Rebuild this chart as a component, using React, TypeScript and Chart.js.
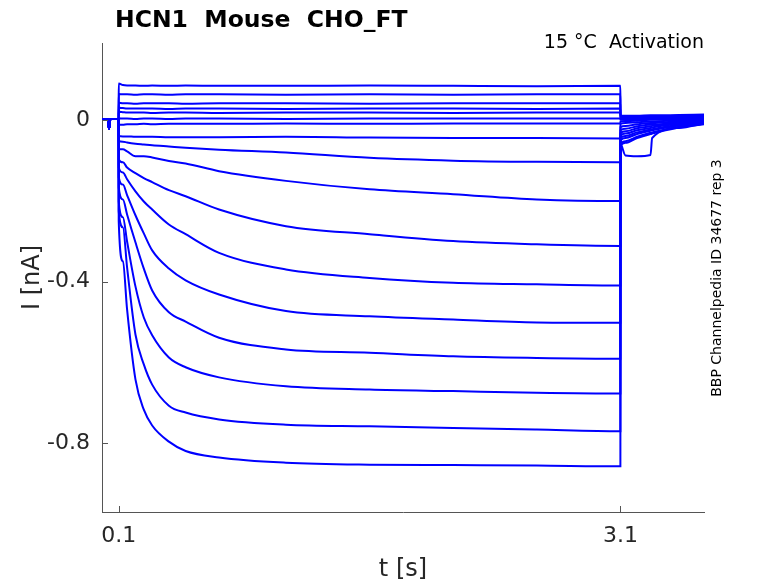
import { useEffect, useRef } from "react"
import { Chart, registerables } from "chart.js"

Chart.register(...registerables)

// holding period before the step (s, nA)
const HOLD_T = [0, 0.035, 0.042, 0.05, 0.0995]
const HOLD_I = [0.002, 0.002, -0.022, 0.002, 0.002]

// activation step, one row per sweep (top to bottom)
const STEP_T = [0.1, 0.125, 0.15, 0.2, 0.25, 0.3, 0.4, 0.5, 0.7, 1.1, 1.6, 2.1, 2.6, 3.1]
const STEP_I = [
  [0.09, 0.086, 0.085, 0.085, 0.084, 0.085, 0.084, 0.085, 0.084, 0.084, 0.085, 0.084, 0.083, 0.084],
  [0.064, 0.063, 0.063, 0.062, 0.063, 0.063, 0.062, 0.063, 0.063, 0.062, 0.063, 0.062, 0.063, 0.063],
  [0.042, 0.041, 0.041, 0.04, 0.041, 0.041, 0.041, 0.04, 0.041, 0.041, 0.04, 0.041, 0.041, 0.041],
  [0.03, 0.029, 0.028, 0.028, 0.028, 0.028, 0.027, 0.028, 0.028, 0.027, 0.028, 0.028, 0.027, 0.028],
  [0.02, 0.019, 0.018, 0.018, 0.018, 0.017, 0.018, 0.018, 0.017, 0.018, 0.018, 0.017, 0.018, 0.018],
  [0.004, 0.003, 0.003, 0.002, 0.003, 0.003, 0.002, 0.003, 0.003, 0.002, 0.003, 0.003, 0.003, 0.003],
  [-0.012, -0.012, -0.011, -0.011, -0.01, -0.011, -0.01, -0.01, -0.01, -0.009, -0.01, -0.009, -0.009, -0.009],
  [-0.04, -0.041, -0.041, -0.042, -0.042, -0.042, -0.043, -0.043, -0.043, -0.042, -0.044, -0.045, -0.045, -0.046],
  [-0.052, -0.054, -0.056, -0.059, -0.061, -0.063, -0.066, -0.069, -0.074, -0.081, -0.094, -0.101, -0.104, -0.105],
  [-0.073, -0.073, -0.078, -0.09, -0.09, -0.093, -0.102, -0.108, -0.127, -0.151, -0.172, -0.184, -0.197, -0.201],
  [-0.098, -0.105, -0.118, -0.132, -0.144, -0.154, -0.174, -0.189, -0.222, -0.263, -0.283, -0.3, -0.308, -0.312],
  [-0.118, -0.13, -0.147, -0.177, -0.202, -0.222, -0.259, -0.283, -0.329, -0.37, -0.391, -0.403, -0.407, -0.41],
  [-0.142, -0.16, -0.186, -0.236, -0.281, -0.323, -0.368, -0.397, -0.432, -0.473, -0.486, -0.494, -0.501, -0.502],
  [-0.167, -0.197, -0.234, -0.303, -0.368, -0.422, -0.476, -0.499, -0.539, -0.568, -0.576, -0.585, -0.589, -0.591],
  [-0.202, -0.241, -0.301, -0.412, -0.489, -0.533, -0.588, -0.612, -0.637, -0.659, -0.667, -0.671, -0.675, -0.677],
  [-0.226, -0.266, -0.365, -0.531, -0.605, -0.655, -0.707, -0.724, -0.741, -0.754, -0.758, -0.762, -0.766, -0.77],
  [-0.251, -0.35, -0.469, -0.642, -0.717, -0.756, -0.796, -0.819, -0.835, -0.848, -0.853, -0.854, -0.855, -0.857],
]

// tail after the step
const TAIL_T = [3.1005, 3.13, 3.2, 3.28, 3.29, 3.45, 3.6]
const TAIL_I = [
  [0.01, 0.01, 0.01, 0.011, 0.011, 0.012, 0.013],
  [0.008, 0.008, 0.008, 0.009, 0.009, 0.01, 0.011],
  [0.006, 0.006, 0.006, 0.007, 0.007, 0.008, 0.009],
  [0.004, 0.004, 0.004, 0.005, 0.005, 0.006, 0.007],
  [0.002, 0.002, 0.003, 0.004, 0.004, 0.005, 0.006],
  [0, 0, 0.001, 0.002, 0.002, 0.003, 0.004],
  [-0.004, -0.003, -0.002, 0, 0, 0.001, 0.002],
  [-0.01, -0.008, -0.006, -0.004, -0.004, -0.001, 0.001],
  [-0.018, -0.015, -0.011, -0.008, -0.008, -0.003, 0],
  [-0.026, -0.022, -0.016, -0.012, -0.012, -0.005, -0.002],
  [-0.033, -0.028, -0.021, -0.016, -0.015, -0.008, -0.003],
  [-0.04, -0.034, -0.026, -0.02, -0.019, -0.01, -0.005],
  [-0.046, -0.04, -0.031, -0.024, -0.023, -0.012, -0.006],
  [-0.052, -0.045, -0.035, -0.027, -0.026, -0.014, -0.007],
  [-0.06, -0.088, -0.09, -0.087, -0.045, -0.02, -0.009],
  [-0.061, -0.053, -0.042, -0.032, -0.031, -0.017, -0.009],
  [-0.065, -0.057, -0.045, -0.035, -0.034, -0.019, -0.011],
]

const X_TICKS = [0.1, 3.1]
const Y_TICKS = [-0.8, -0.4, 0]

const FONT = "'DejaVu Sans', sans-serif"
const AXIS_COLOR = "#555555"
const TEXT_COLOR = "#262626"

const textPlugin = {
  id: "figureText",
  afterDraw(chart: any) {
    const { ctx, chartArea, scales } = chart
    ctx.save()

    // inward tick marks
    ctx.strokeStyle = AXIS_COLOR
    ctx.lineWidth = 1
    ctx.beginPath()
    X_TICKS.forEach((v) => {
      const px = Math.round(scales.x.getPixelForValue(v)) + 0.5
      ctx.moveTo(px, chartArea.bottom)
      ctx.lineTo(px, chartArea.bottom - 6)
    })
    Y_TICKS.forEach((v) => {
      const py = Math.round(scales.y.getPixelForValue(v)) + 0.5
      ctx.moveTo(chartArea.left, py)
      ctx.lineTo(chartArea.left + 6, py)
    })
    ctx.stroke()

    ctx.fillStyle = "#000000"
    ctx.font = `bold 23.5px ${FONT}`
    ctx.textAlign = "left"
    ctx.textBaseline = "alphabetic"
    ctx.fillText("HCN1  Mouse  CHO_FT", 115, 27)

    ctx.font = `19px ${FONT}`
    ctx.textAlign = "right"
    ctx.fillText("15 °C  Activation", chartArea.right, 48)

    ctx.fillStyle = TEXT_COLOR
    ctx.font = `24px ${FONT}`
    ctx.textAlign = "center"
    ctx.fillText("t [s]", (chartArea.left + chartArea.right) / 2, 576)

    ctx.save()
    ctx.translate(39, (chartArea.top + chartArea.bottom) / 2)
    ctx.rotate(-Math.PI / 2)
    ctx.fillText("I [nA]", 0, 0)
    ctx.restore()

    ctx.fillStyle = "#000000"
    ctx.save()
    ctx.translate(721, 278)
    ctx.rotate(-Math.PI / 2)
    ctx.font = `14px ${FONT}`
    ctx.textAlign = "center"
    ctx.fillText("BBP Channelpedia ID 34677 rep 3", 0, 0)
    ctx.restore()

    ctx.restore()
  },
}

const App = () => {
  const canvasRef = useRef<HTMLCanvasElement | null>(null)

  useEffect(() => {
    if (!canvasRef.current) return

    const datasets = STEP_I.map((row, i) => ({
      label: `sweep ${i + 1}`,
      data: [
        ...HOLD_T.map((t, j) => ({ x: t, y: HOLD_I[j] })),
        ...STEP_T.map((t, j) => ({ x: t, y: row[j] })),
        ...TAIL_T.map((t, j) => ({ x: t, y: TAIL_I[i][j] })),
      ],
      borderColor: "#0000ff",
      borderWidth: 2,
      pointRadius: 0,
      cubicInterpolationMode: "monotone" as const,
    }))

    const chartInstance = new Chart(canvasRef.current, {
      type: "line",
      data: { datasets },
      options: {
        animation: false,
        responsive: false,
        events: [],
        layout: { padding: { top: 43, right: 74, bottom: 0, left: 0 } },
        plugins: { legend: { display: false }, tooltip: { enabled: false } },
        scales: {
          x: {
            type: "linear",
            min: 0,
            max: 3.6,
            afterBuildTicks: (scale: any) => {
              scale.ticks = X_TICKS.map((v) => ({ value: v }))
            },
            afterFit: (scale: any) => {
              scale.height = 71
            },
            grid: { display: true, drawOnChartArea: false, drawTicks: false },
            border: { display: true, color: AXIS_COLOR, width: 1 },
            ticks: {
              color: TEXT_COLOR,
              font: { family: FONT, size: 22 },
              padding: 11,
              maxRotation: 0,
              callback: (v: any) => String(v),
            },
          },
          y: {
            type: "linear",
            min: -0.97,
            max: 0.19,
            afterBuildTicks: (scale: any) => {
              scale.ticks = Y_TICKS.map((v) => ({ value: v }))
            },
            afterFit: (scale: any) => {
              scale.width = 102
            },
            grid: { display: true, drawOnChartArea: false, drawTicks: false },
            border: { display: true, color: AXIS_COLOR, width: 1 },
            ticks: {
              color: TEXT_COLOR,
              font: { family: FONT, size: 22 },
              padding: 12,
              callback: (v: any) => String(v),
            },
          },
        },
      },
      plugins: [textPlugin],
    })

    return () => {
      chartInstance.destroy()
    }
  }, [])

  return (
    <div style={{ position: "fixed", left: 0, top: 0, width: 778, height: 583, background: "#fff" }}>
      <canvas ref={canvasRef} width={778} height={583} />
    </div>
  )
}

export default App
